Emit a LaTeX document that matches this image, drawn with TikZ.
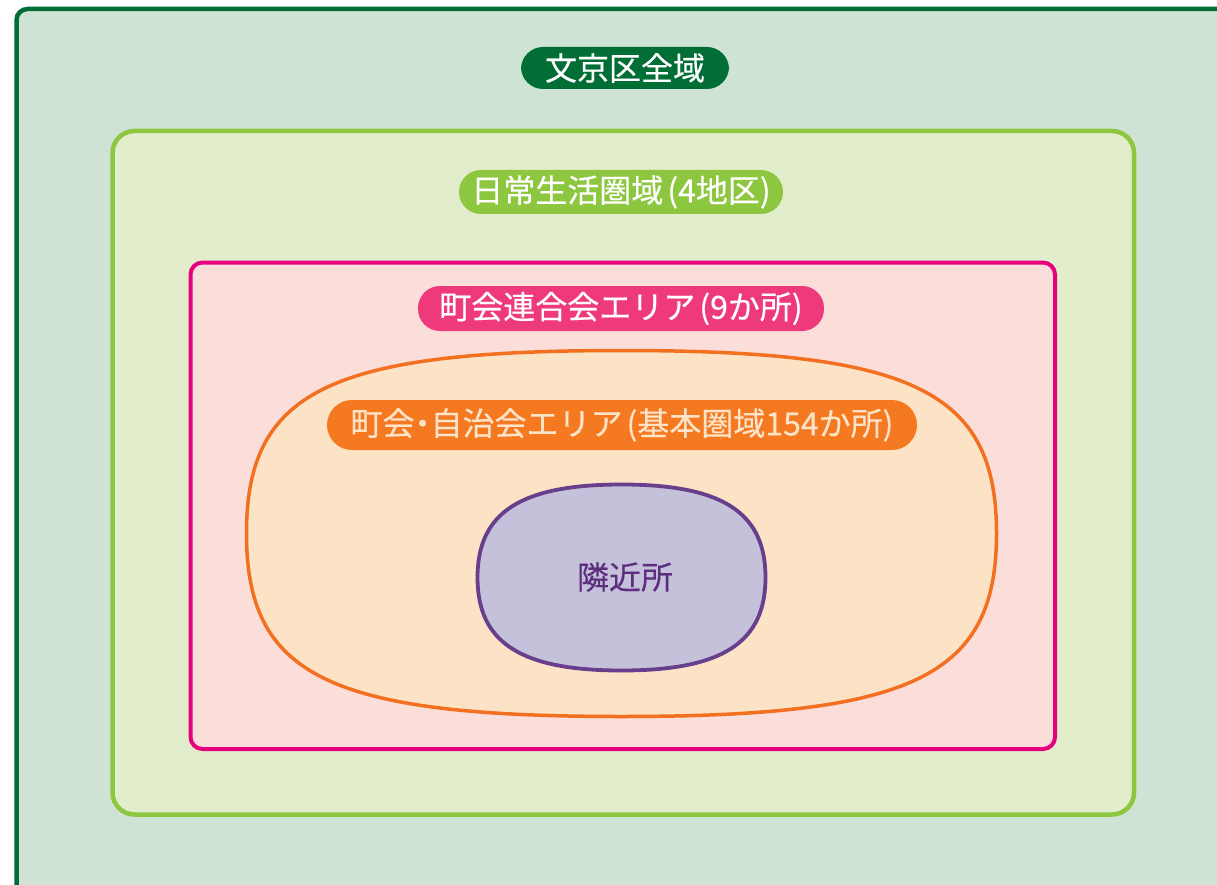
\documentclass[tikz,border=0pt]{standalone}
\usepackage{fontspec}
\setmainfont{Noto Sans CJK JP}
\newfontfamily\lblfont{Noto Sans CJK JP}[FakeBold=0.3]
\definecolor{outerbg}{HTML}{CFE3D4}
\definecolor{outerln}{HTML}{006E35}
\definecolor{lgbg}{HTML}{E2EECB}
\definecolor{lgln}{HTML}{8DC63F}
\definecolor{pkbg}{HTML}{FBDDDA}
\definecolor{pkln}{HTML}{E6007E}
\definecolor{pklab}{HTML}{EE3A7B}
\definecolor{orbg}{HTML}{FDE3C6}
\definecolor{orln}{HTML}{F37021}
\definecolor{orlab}{HTML}{F47920}
\definecolor{ortext}{HTML}{FDE4C8}
\definecolor{pubg}{HTML}{C5C1DA}
\definecolor{puln}{HTML}{673F8C}
\definecolor{putext}{HTML}{5E2E7E}
\newcommand{\pdot}{{\addfontfeature{RawFeature=+palt}・}}
\newcommand{\lp}{\hspace{4pt}(}
\begin{document}
\begin{tikzpicture}[x=1pt,y=-1pt,
  pill/.style={rectangle, rounded corners=22pt, inner sep=0pt, text=white,
    font=\lblfont\fontsize{32}{32}\selectfont, minimum height=#1},
  pill/.default=44pt]
\useasboundingbox (0,0) rectangle (1217,885);
% outer
\draw[outerln, fill=outerbg, line width=4.5pt, rounded corners=11pt]
  (16.5,9) rectangle (1260,920);
% light green
\draw[lgln, fill=lgbg, line width=4.5pt, rounded corners=22pt]
  (112.5,131) rectangle (1134,814.5);
% pink
\draw[pkln, fill=pkbg, line width=4pt, rounded corners=12pt]
  (190.5,262.5) rectangle (1055,749);
% orange blob
\draw[orln, fill=orbg, line width=3.5pt]
  (996.5,533.5) .. controls (996.5,676) and (914,716.5) .. (621.5,716.5)
  .. controls (329,716.5) and (246.5,676) .. (246.5,533.5)
  .. controls (246.5,391) and (329,350.5) .. (621.5,350.5)
  .. controls (914,350.5) and (996.5,391) .. cycle;
% purple blob
\draw[puln, fill=pubg, line width=3.8pt]
  (765.5,577.5) .. controls (765.5,642.5) and (722.5,670.5) .. (621.5,670.5)
  .. controls (520.5,670.5) and (477.5,642.5) .. (477.5,577.5)
  .. controls (477.5,512.5) and (520.5,484.5) .. (621.5,484.5)
  .. controls (722.5,484.5) and (765.5,512.5) .. cycle;
% labels
\node[pill=42pt, fill=outerln, minimum width=208pt] (l1) at (625,68) {文京区全域};
\node[pill=44pt, fill=lgln, minimum width=324pt] (l2) at (621,192) {日常生活圏域\lp 4地区)};
\node[pill=45pt, fill=pklab, minimum width=406pt] (l3) at (621,308.5) {町会連合会エリア\lp 9か所)};
\node[pill=50pt, rounded corners=25pt, fill=orlab, text=ortext, minimum width=590pt] (l4) at (622,425) {町会\pdot 自治会エリア\lp 基本圏域154か所)};
\node[text=putext, font=\lblfont\fontsize{32}{32}\selectfont, inner sep=0pt] (l5) at (625,577) {隣近所};
\end{tikzpicture}
\end{document}
